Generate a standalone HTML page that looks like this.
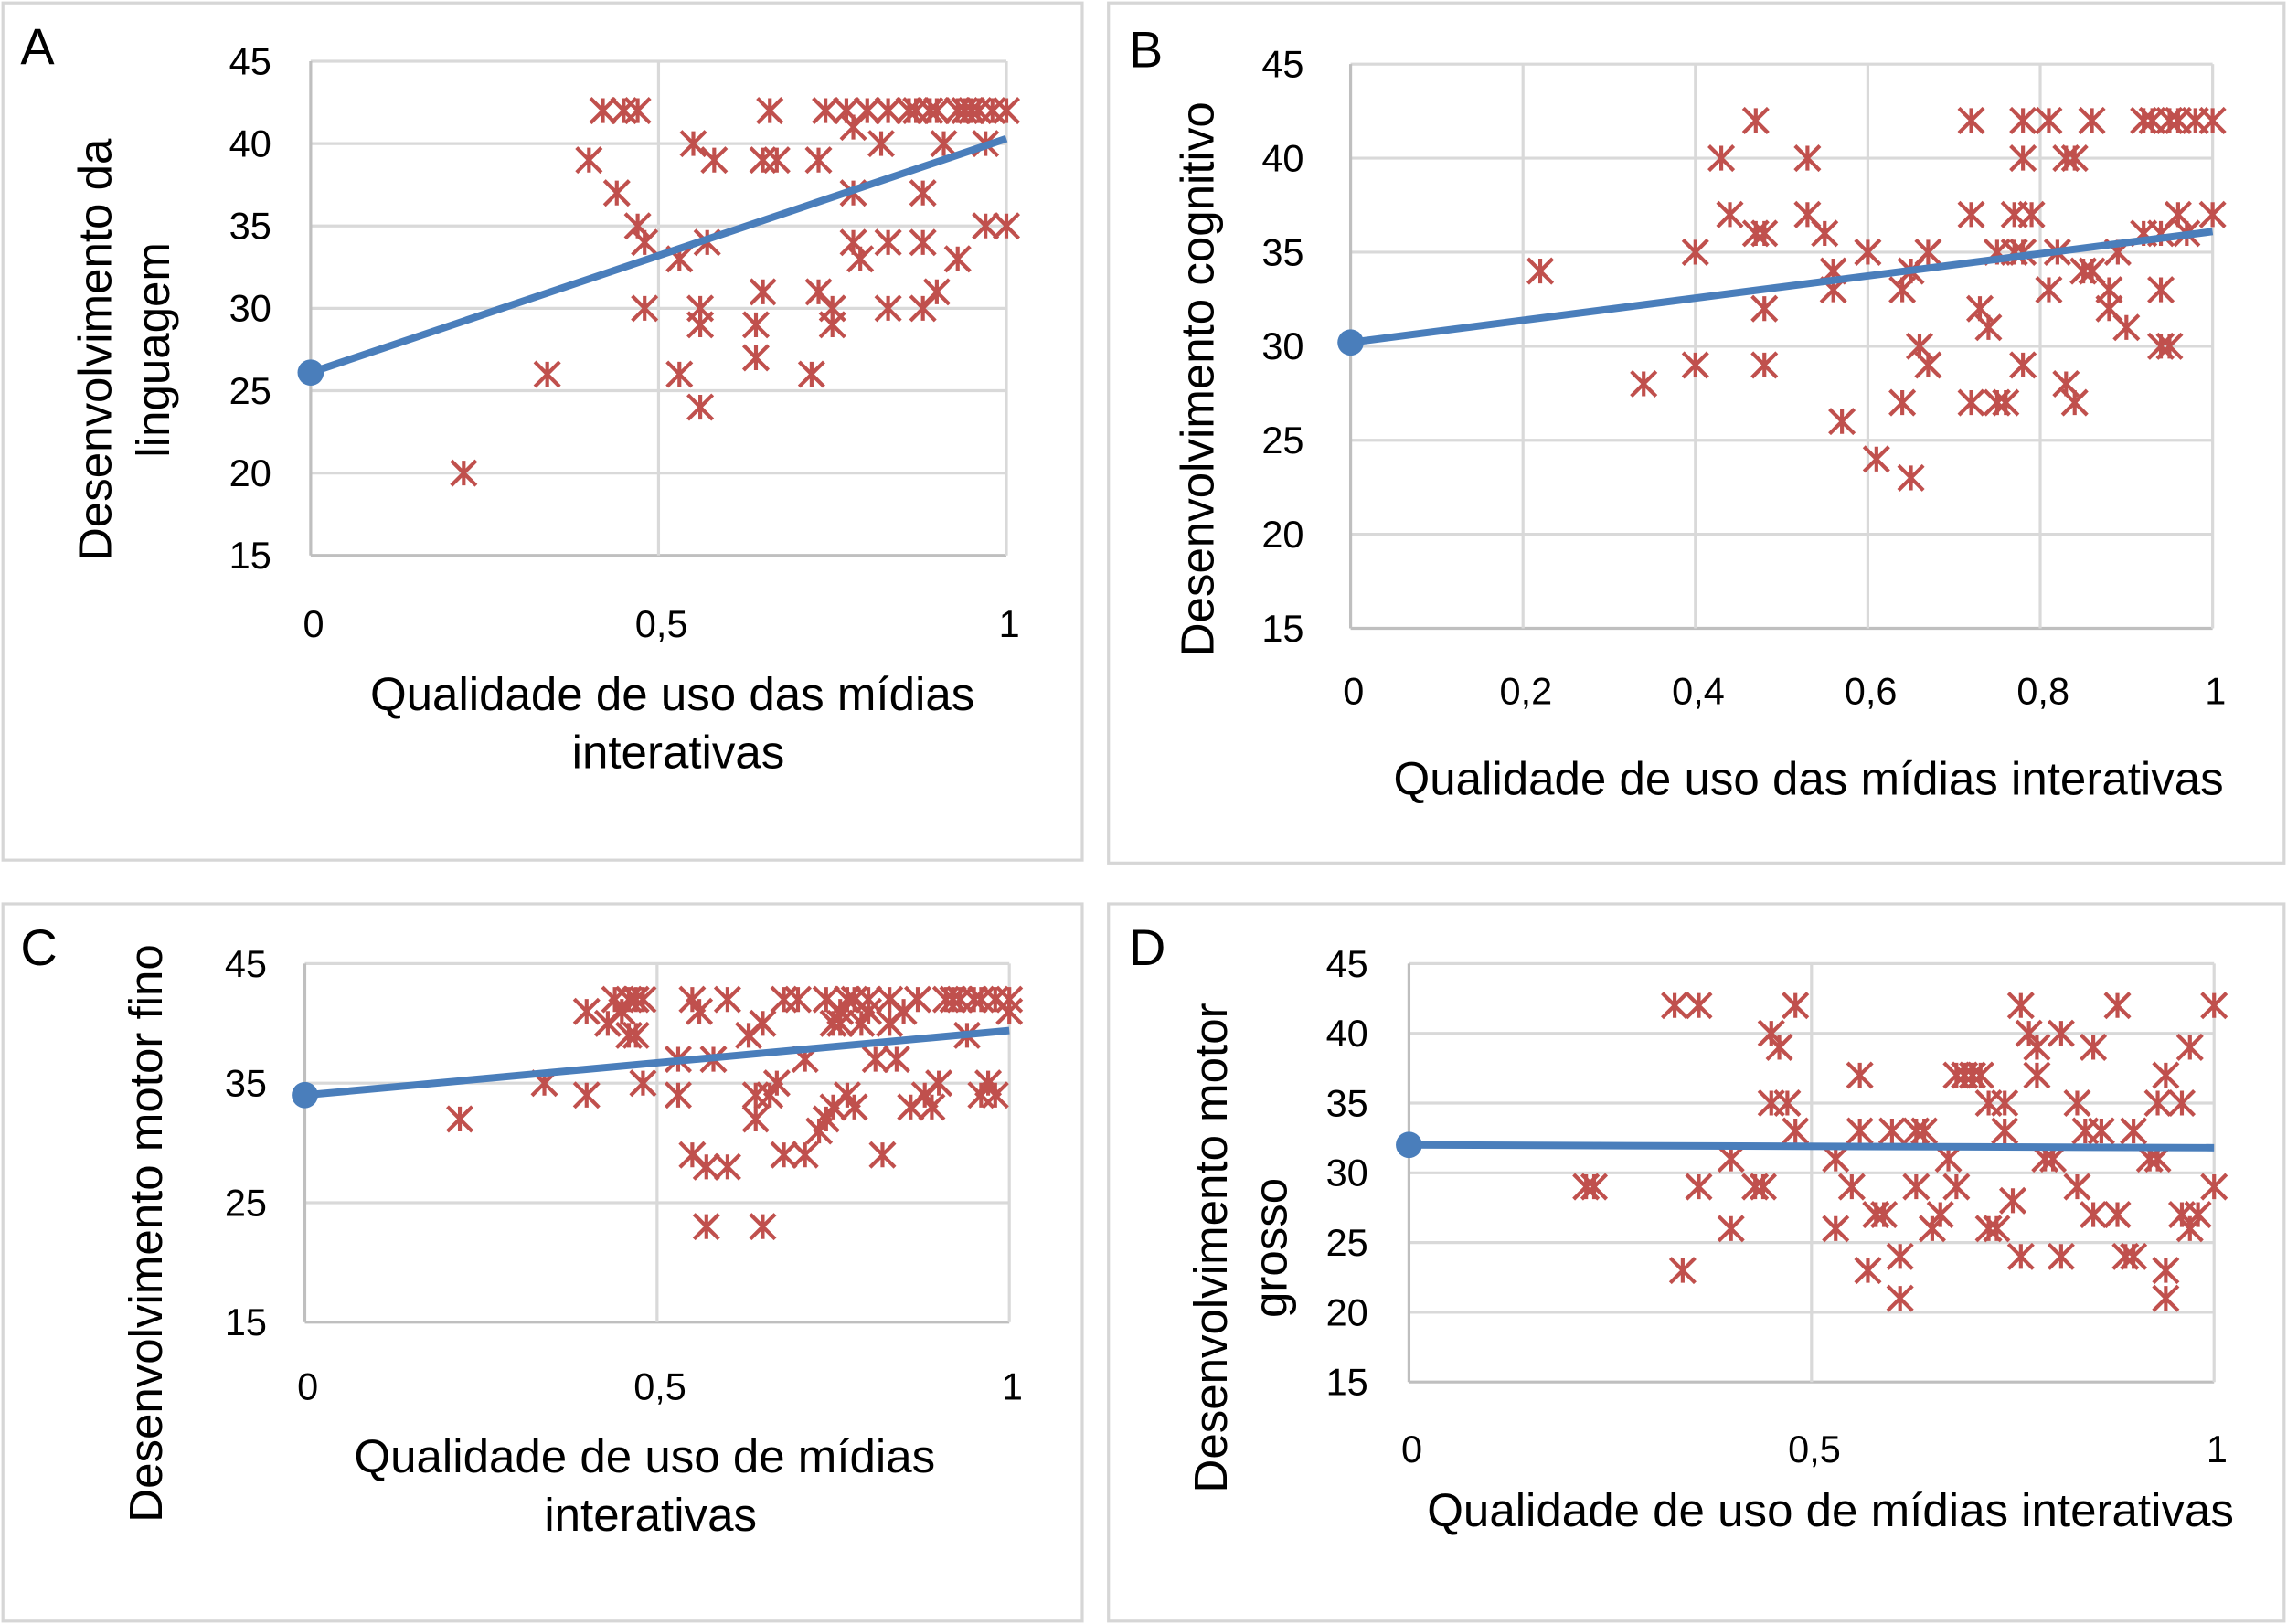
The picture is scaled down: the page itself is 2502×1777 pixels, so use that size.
<!DOCTYPE html>
<html><head><meta charset="utf-8">
<style>
html,body{margin:0;padding:0;background:#fff;}
svg{display:block;font-family:"Liberation Sans",Arial,sans-serif;}
</style></head>
<body>
<svg id="fig" width="2502" height="1777" viewBox="0 0 1568 1114" preserveAspectRatio="none" xmlns="http://www.w3.org/2000/svg">
  <rect x="0" y="0" width="1568" height="1114" fill="#fff"/>
  <rect x="2" y="2" width="740" height="588" fill="none" stroke="#d6d6d6" stroke-width="2"/>
  <rect x="760" y="2" width="806" height="590" fill="none" stroke="#d6d6d6" stroke-width="2"/>
  <rect x="2" y="620" width="740" height="492" fill="none" stroke="#d6d6d6" stroke-width="2"/>
  <rect x="760" y="620" width="806" height="492" fill="none" stroke="#d6d6d6" stroke-width="2"/>

  <text x="14" y="44" font-size="35">A</text>
  <text x="774" y="46" font-size="35">B</text>
  <text x="14" y="662" font-size="35">C</text>
  <text x="774" y="662" font-size="35">D</text>

  <text font-size="32" text-anchor="middle" transform="translate(76,240) rotate(-90)">Desenvolvimento da</text>
  <text font-size="32" text-anchor="middle" transform="translate(116,240) rotate(-90)">linguagem</text>
  <text font-size="32" text-anchor="middle" x="461" y="487">Qualidade de uso das mídias</text>
  <text font-size="32" text-anchor="middle" x="465" y="527">interativas</text>

  <text font-size="32" text-anchor="middle" transform="translate(832,260) rotate(-90)">Desenvolvimento cognitivo</text>
  <text font-size="32" text-anchor="middle" x="1240" y="545">Qualidade de uso das mídias interativas</text>

  <text font-size="32" text-anchor="middle" transform="translate(111,846) rotate(-90)">Desenvolvimento motor fino</text>
  <text font-size="32" text-anchor="middle" x="442" y="1010">Qualidade de uso de mídias</text>
  <text font-size="32" text-anchor="middle" x="446" y="1050">interativas</text>

  <text font-size="32" text-anchor="middle" transform="translate(841,856) rotate(-90)">Desenvolvimento motor</text>
  <text font-size="32" text-anchor="middle" transform="translate(882,856) rotate(-90)">grosso</text>
  <text font-size="32" text-anchor="middle" x="1255" y="1047">Qualidade de uso de mídias interativas</text>
</svg>
<script>
const xA=[0.22,0.34,0.40,0.42,0.44,0.45,0.47,0.47,0.48,0.48,0.53,0.53,0.55,0.56,0.56,0.56,0.57,0.58,0.64,0.64,0.65,0.65,0.66,0.67,0.72,0.73,0.73,0.75,0.75,0.74,0.77,0.78,0.78,0.78,0.79,0.80,0.82,0.83,0.83,0.83,0.86,0.87,0.88,0.88,0.88,0.90,0.90,0.91,0.93,0.94,0.95,0.96,0.97,0.97,0.98,1.0,1.0,0.89,0.93];
const yA=[20,26,39,42,37,42,42,35,34,30,26,33,40,30,29,24,34,39,27,29,31,39,42,39,26,39,31,30,29,42,42,37,34,41,33,42,40,42,34,30,42,42,34,37,30,31,42,40,33,42,42,42,40,35,42,35,42,42,42];
const xB=[0.22,0.34,0.40,0.40,0.43,0.44,0.47,0.47,0.48,0.48,0.48,0.53,0.53,0.55,0.56,0.56,0.57,0.60,0.61,0.64,0.64,0.65,0.65,0.66,0.67,0.67,0.72,0.72,0.72,0.73,0.74,0.75,0.75,0.76,0.77,0.77,0.78,0.78,0.78,0.78,0.79,0.81,0.81,0.82,0.83,0.84,0.83,0.84,0.85,0.86,0.86,0.88,0.88,0.89,0.90,0.92,0.92,0.93,0.94,0.94,0.94,0.95,0.95,0.96,0.96,0.97,0.98,1.0,1.0];
const yB=[34,28,35,29,40,37,42,36,36,32,29,40,37,36,34,33,26,35,24,33,27,34,23,30,29,35,42,37,27,32,31,27,35,27,37,35,42,40,35,29,37,42,33,35,40,40,28,27,34,42,34,33,32,35,31,42,36,42,36,33,30,30,42,42,37,36,42,42,37];
const xC=[0.22,0.34,0.40,0.40,0.43,0.44,0.45,0.46,0.46,0.47,0.47,0.48,0.48,0.53,0.53,0.55,0.55,0.56,0.57,0.57,0.58,0.60,0.60,0.63,0.64,0.64,0.65,0.65,0.66,0.67,0.68,0.68,0.71,0.71,0.73,0.74,0.74,0.75,0.75,0.76,0.77,0.77,0.78,0.78,0.79,0.80,0.80,0.81,0.82,0.83,0.83,0.84,0.85,0.86,0.87,0.88,0.89,0.90,0.91,0.92,0.93,0.94,0.95,0.96,0.96,0.97,0.98,0.98,1.0,1.0,0.70,0.76];
const yC=[32,35,34,41,40,42,41,39,42,39,42,42,35,37,34,42,29,41,28,23,37,28,42,39,34,32,40,23,34,35,29,42,29,37,31,42,32,33,40,41,34,42,33,42,40,41,42,37,29,40,42,37,41,33,42,34,33,35,42,42,42,39,42,34,42,35,42,34,42,41,42,40];
const xD=[0.22,0.23,0.33,0.36,0.36,0.34,0.40,0.40,0.43,0.44,0.45,0.46,0.45,0.47,0.48,0.48,0.53,0.53,0.55,0.56,0.56,0.57,0.58,0.59,0.60,0.61,0.61,0.63,0.64,0.63,0.65,0.66,0.67,0.68,0.68,0.69,0.70,0.71,0.72,0.72,0.73,0.74,0.74,0.75,0.76,0.76,0.77,0.78,0.78,0.79,0.80,0.81,0.81,0.83,0.83,0.84,0.85,0.85,0.86,0.88,0.88,0.89,0.90,0.90,0.92,0.93,0.93,0.94,0.94,0.94,0.96,0.97,0.96,0.97,0.98,1.0,1.0];
const yD=[29,29,42,42,29,23,31,26,29,29,40,39,35,35,42,33,31,26,29,37,33,23,27,27,33,24,21,33,33,29,26,27,31,29,37,37,37,37,35,26,26,33,35,28,42,24,40,37,39,31,31,40,24,35,29,33,39,27,33,42,27,24,24,33,31,35,31,37,23,21,35,39,27,26,27,42,29];
const trendA=[26.1,40.3];
const trendB=[30.2,36.1];
const trendC=[34.0,39.4];
const trendD=[32.0,31.8];
const yTicksA=["15","20","25","30","35","40","45"];
const yTicksC=["15","25","35","45"];
const xTicksA=["0","0,5","1"];
const xTicksB=["0","0,2","0,4","0,6","0,8","1"];

const NS="http://www.w3.org/2000/svg";
const svg=document.getElementById('fig');
function mk(tag,attrs){const e=document.createElementNS(NS,tag);for(const k in attrs)e.setAttribute(k,attrs[k]);svg.appendChild(e);return e;}

function panel(id,P,xs,ys,trend,yTicks,xTicks,yMin,yMax){
  const sx=v=>P.x0+(P.x1-P.x0)*v;
  const sy=v=>P.yb+(P.yt-P.yb)*(v-yMin)/(yMax-yMin);
  yTicks.forEach(t=>{const v=parseFloat(t);const y=sy(v);
    const g=mk('line',{x1:P.x0,x2:P.x1,y1:y,y2:y,stroke:v===yMin?'#bfbfbf':'#d9d9d9','stroke-width':2});
    
    
    const tx=mk('text',{x:P.yl,y:y+9,'font-size':26,'text-anchor':'end'});tx.textContent=t;
    
    
  });
  xTicks.forEach(t=>{const v=parseFloat(t.replace(',','.'));const x=sx(v);
    const g=mk('line',{x1:x,x2:x,y1:P.yt,y2:P.yb,stroke:v===0?'#bfbfbf':'#d9d9d9','stroke-width':2});
    
    
    const tx=mk('text',{x:x+2,y:P.xl,'font-size':26,'text-anchor':'middle'});tx.textContent=t;
    
    
  });
  for(let i=0;i<xs.length;i++){
    const cx=sx(xs[i]),cy=sy(ys[i]),r=8.5;
    const p=mk('path',{d:`M${cx-r},${cy-r}L${cx+r},${cy+r}M${cx-r},${cy+r}L${cx+r},${cy-r}M${cx},${cy-r}L${cx},${cy+r}`,stroke:'#c0504d','stroke-width':2.6,fill:'none'});
    
    
  }
  const l=mk('line',{x1:sx(0),y1:sy(trend[0]),x2:sx(1),y2:sy(trend[1]),stroke:'#4a7ebb','stroke-width':5});
  
  
  const d=mk('circle',{cx:sx(0),cy:sy(trend[0]),r:9,fill:'#4a7ebb'});
  
  
}
panel('panel-a',{x0:213,x1:690,yt:42,yb:381,yl:186,xl:437},xA,yA,trendA,yTicksA,xTicksA,15,45);
panel('panel-b',{x0:926,x1:1517,yt:44,yb:431,yl:894,xl:483},xB,yB,trendB,yTicksA,xTicksB,15,45);
panel('panel-c',{x0:209,x1:692,yt:661,yb:907,yl:183,xl:960},xC,yC,trendC,yTicksC,xTicksA,15,45);
panel('panel-d',{x0:966,x1:1518,yt:661,yb:948,yl:938,xl:1003},xD,yD,trendD,yTicksA,xTicksA,15,45);
</script>
</body></html>
